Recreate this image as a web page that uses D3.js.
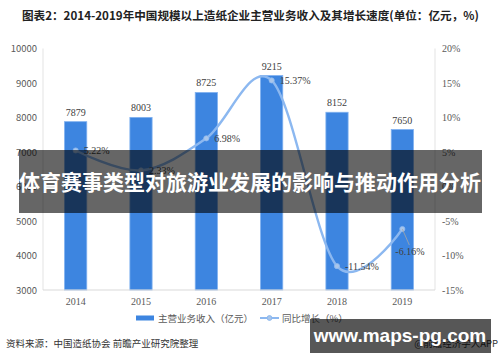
<!DOCTYPE html>
<html>
<head>
<meta charset="utf-8">
<script src="https://cdn.jsdelivr.net/npm/d3@7"></script>
<style>
  body { margin: 0; background: #fff; }
  svg { display: block; }
</style>
</head>
<body>
<div id="chart"></div>
<script>
// data
const years = ["2014", "2015", "2016", "2017", "2018", "2019"];
const revenue = [7879, 8003, 8725, 9215, 8152, 7650];
const growth = [5.22, 2.33, 6.98, 15.37, -11.54, -6.16];
const leftTicks = [3000, 4000, 5000, 6000, 7000, 8000, 9000, 10000];
const rightTicks = [-15, -10, -5, 0, 5, 10, 15, 20];

const width = 500, height = 362;
const plot = { left: 43, right: 435, top: 48.5, bottom: 290 };

const svg = d3.select("#chart").append("svg")
    .attr("width", width)
    .attr("height", height);

const serif = "'Liberation Serif', 'Times New Roman', serif";
const sans = "'Noto Sans CJK SC', 'Noto Sans', sans-serif";

// title
svg.append("text")
    .attr("x", 22).attr("y", 20)
    .attr("font-family", sans)
    .attr("font-size", 11.6)
    .attr("font-weight", "bold")
    .attr("fill", "#222")
    .text("图表2：2014-2019年中国规模以上造纸企业主营业务收入及其增长速度(单位：亿元，%)");

const x = d3.scaleBand()
    .domain(years)
    .range([plot.left, plot.right])
    .paddingInner(0.66)
    .paddingOuter(0.33);

const yLeft = d3.scaleLinear()
    .domain([3000, 10000])
    .range([plot.bottom, plot.top]);

const yRight = d3.scaleLinear()
    .domain([-15, 20])
    .range([plot.bottom, plot.top]);

// axes lines
svg.append("line")
    .attr("x1", plot.left).attr("x2", plot.left)
    .attr("y1", plot.top).attr("y2", plot.bottom)
    .attr("stroke", "#e3e3e3");
svg.append("line")
    .attr("x1", plot.right).attr("x2", plot.right)
    .attr("y1", plot.top).attr("y2", plot.bottom)
    .attr("stroke", "#e3e3e3");

const leftAxis = svg.append("g")
    .attr("transform", `translate(${plot.left},0)`)
    .call(d3.axisLeft(yLeft).tickValues(leftTicks).tickSize(0).tickPadding(6)
        .tickFormat(d => String(d)));
leftAxis.select(".domain").remove();
leftAxis.selectAll("text")
    .attr("font-family", sans)
    .attr("font-size", 9.5)
    .attr("fill", "#595959");

const rightAxis = svg.append("g")
    .attr("transform", `translate(${plot.right},0)`)
    .call(d3.axisRight(yRight).tickValues(rightTicks).tickSize(0).tickPadding(7)
        .tickFormat(d => d + "%"));
rightAxis.select(".domain").remove();
rightAxis.selectAll("text")
    .attr("font-family", serif)
    .attr("font-size", 10)
    .attr("fill", "#595959");

// bars
svg.selectAll("rect.bar")
    .data(revenue)
    .enter()
    .append("rect")
    .attr("class", "bar")
    .attr("x", (d, i) => x(years[i]))
    .attr("y", d => yLeft(d))
    .attr("width", x.bandwidth())
    .attr("height", d => plot.bottom - yLeft(d))
    .attr("fill", "#3d85e0")
    .attr("stroke", "#7fb0ef")
    .attr("stroke-width", 0.8);

svg.selectAll("text.bar-label")
    .data(revenue)
    .enter()
    .append("text")
    .attr("class", "bar-label")
    .attr("x", (d, i) => x(years[i]) + x.bandwidth() / 2)
    .attr("y", d => yLeft(d) - 6)
    .attr("text-anchor", "middle")
    .attr("font-family", serif)
    .attr("font-size", 10)
    .attr("fill", "#404040")
    .text(d => d);

// bottom axis
svg.append("line")
    .attr("x1", plot.left).attr("x2", plot.right)
    .attr("y1", plot.bottom).attr("y2", plot.bottom)
    .attr("stroke", "#d9d9d9");

const bottomAxis = svg.append("g")
    .attr("transform", `translate(0,${plot.bottom})`)
    .call(d3.axisBottom(x).tickSize(0).tickPadding(8));
bottomAxis.select(".domain").remove();
bottomAxis.selectAll("text")
    .attr("font-family", serif)
    .attr("font-size", 10)
    .attr("fill", "#595959");

// growth line (smoothed like excel)
const cx = i => x(years[i]) + x.bandwidth() / 2;
const line = d3.line()
    .x((d, i) => cx(i))
    .y(d => yRight(d))
    .curve(d3.curveCatmullRom.alpha(0));

svg.append("path")
    .datum(growth)
    .attr("d", line)
    .attr("fill", "none")
    .attr("stroke", "#8cb8f0")
    .attr("stroke-width", 2.4);

svg.selectAll("circle.pt")
    .data(growth)
    .enter()
    .append("circle")
    .attr("class", "pt")
    .attr("cx", (d, i) => cx(i))
    .attr("cy", d => yRight(d))
    .attr("r", 2.6)
    .attr("fill", "#a9c6ea")
    .attr("stroke", "#8cb8f0")
    .attr("stroke-width", 0.8);

// leader line for 2019 label
svg.append("line")
    .attr("x1", cx(5)).attr("y1", yRight(growth[5]))
    .attr("x2", cx(5) + 7).attr("y2", yRight(growth[5]) + 16)
    .attr("stroke", "#a6a6a6")
    .attr("stroke-width", 0.8);

svg.selectAll("text.pct-label")
    .data(growth)
    .enter()
    .append("text")
    .attr("class", "pct-label")
    .attr("x", (d, i) => i === 5 ? cx(i) - 7 : cx(i) + 8)
    .attr("y", (d, i) => i === 5 ? yRight(d) + 26 : yRight(d) + 4)
    .attr("font-family", serif)
    .attr("font-size", 10)
    .attr("fill", "#404040")
    .text(d => d.toFixed(2) + "%");

// legend
const legend = svg.append("g").attr("transform", "translate(0,318)");
legend.append("rect")
    .attr("x", 136).attr("y", -2.5)
    .attr("width", 18).attr("height", 5)
    .attr("fill", "#3d85e0");
legend.append("text")
    .attr("x", 158).attr("y", 3.5)
    .attr("font-family", sans)
    .attr("font-size", 9.5)
    .attr("fill", "#595959")
    .text("主营业务收入（亿元）");
legend.append("line")
    .attr("x1", 260).attr("x2", 279)
    .attr("y1", 0).attr("y2", 0)
    .attr("stroke", "#8cb8f0")
    .attr("stroke-width", 2);
legend.append("circle")
    .attr("cx", 269.5).attr("cy", 0).attr("r", 2.4)
    .attr("fill", "#a9c6ea")
    .attr("stroke", "#8cb8f0");
legend.append("text")
    .attr("x", 282).attr("y", 3.5)
    .attr("font-family", sans)
    .attr("font-size", 9.5)
    .attr("fill", "#595959")
    .text("同比增长（%）");

// source notes
svg.append("text")
    .attr("x", 6).attr("y", 347)
    .attr("font-family", sans)
    .attr("font-size", 9.5)
    .attr("fill", "#333")
    .text("资料来源：中国造纸协会 前瞻产业研究院整理");
svg.append("text")
    .attr("x", 498).attr("y", 347)
    .attr("text-anchor", "end")
    .attr("font-family", sans)
    .attr("font-size", 9.5)
    .attr("fill", "#333")
    .text("@前瞻经济学人APP");

// overlay banner
svg.append("rect")
    .attr("x", 19).attr("y", 150)
    .attr("width", 463).attr("height", 63)
    .attr("fill", "rgba(0,0,0,0.6)");
svg.append("text")
    .attr("x", 250).attr("y", 190)
    .attr("text-anchor", "middle")
    .attr("font-family", sans)
    .attr("font-size", 21)
    .attr("font-weight", "bold")
    .attr("fill", "#fff")
    .text("体育赛事类型对旅游业发展的影响与推动作用分析");

// site badge
svg.append("rect")
    .attr("x", 310).attr("y", 319)
    .attr("width", 181).attr("height", 34)
    .attr("fill", "rgba(0,0,0,0.66)");
svg.append("text")
    .attr("x", 400).attr("y", 342)
    .attr("text-anchor", "middle")
    .attr("font-family", "'Liberation Sans', Arial, sans-serif")
    .attr("font-size", 19)
    .attr("font-weight", "bold")
    .attr("fill", "#fff")
    .text("www.maps-pg.com");
</script>
</body>
</html>
